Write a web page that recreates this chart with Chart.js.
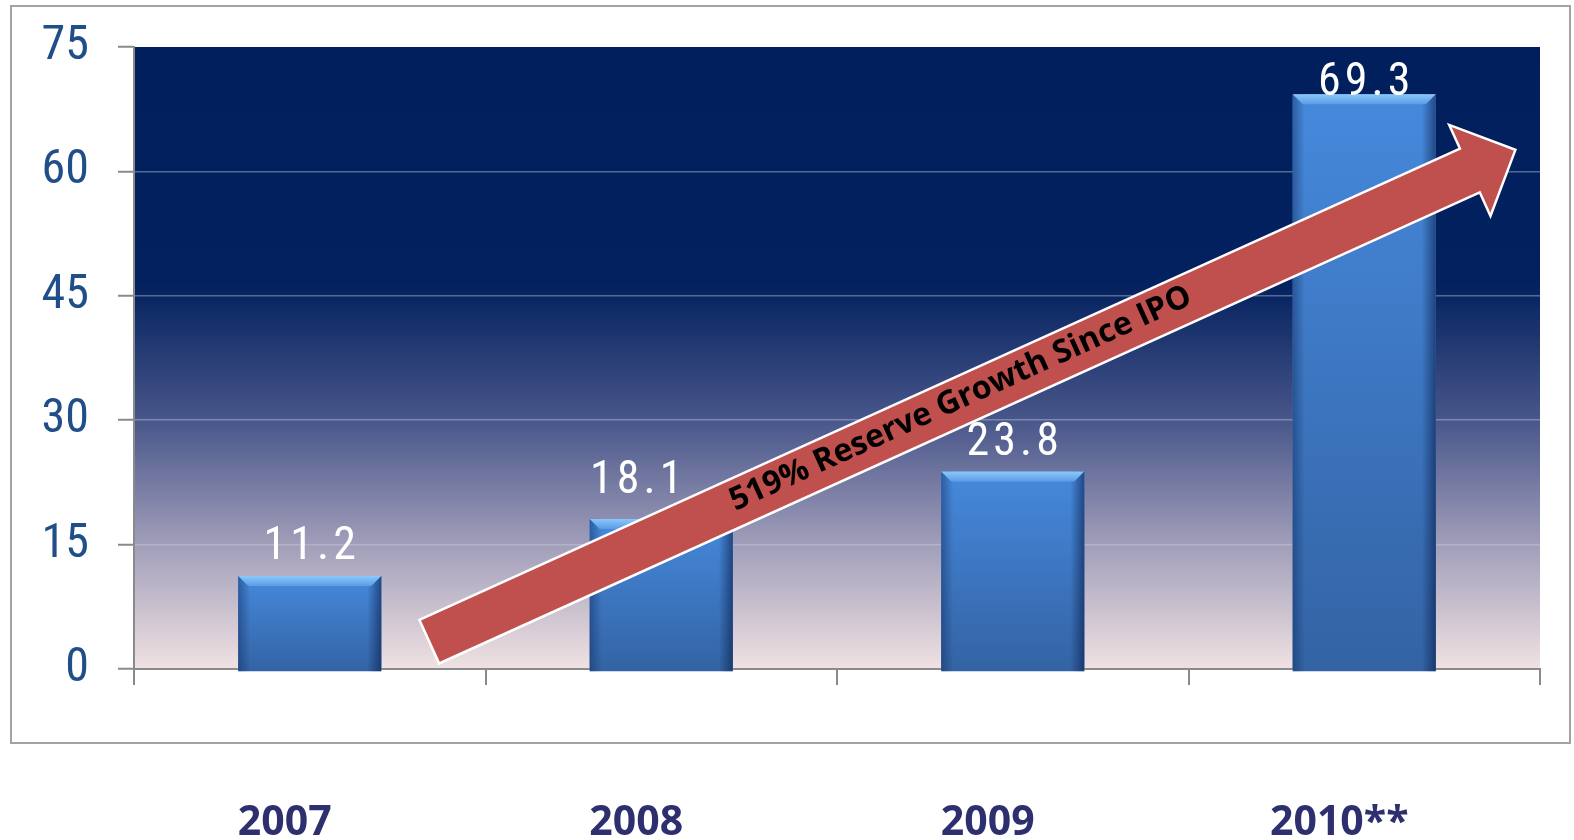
<!DOCTYPE html>
<html>
<head>
<meta charset="utf-8">
<script src="https://cdn.jsdelivr.net/npm/chart.js@4.4.1/dist/chart.umd.min.js"></script>
<style>
  html, body { margin: 0; padding: 0; background: #fff; }
  #wrap { width: 1574px; height: 840px; }
</style>
</head>
<body>
<div id="wrap"><canvas id="reserveChart" width="1574" height="840"></canvas></div>
<script>
// reserves per year
const years = ["2007", "2008", "2009", "2010**"];
const reserves = [11.2, 18.1, 23.8, 69.3];
const yTicks = [0, 15, 30, 45, 60, 75];

// growth arrow, given in data units: [category index, value]
const arrowFrom = [0.34, 3.3];
const arrowTo = [3.43, 62.6];
const arrowText = "519% Reserve Growth Since IPO";

// the 2008 label sits a bit left and higher in the original
const labelNudge = { "2008": [-25, -9] };

const narrow = "'Liberation Sans Narrow', 'Roboto Condensed', Roboto, sans-serif";

const decor = {
    id: "decor",
    beforeDraw(chart) {
        const ctx = chart.ctx;
        const a = chart.chartArea;
        ctx.save();
        // frame round the chart
        ctx.strokeStyle = "#a3a3a3";
        ctx.lineWidth = 2;
        ctx.strokeRect(11, 6, 1559, 737);
        // plot background
        const g = ctx.createLinearGradient(0, a.top, 0, a.bottom);
        g.addColorStop(0, "#001f5c");
        g.addColorStop(0.38, "#03215e");
        g.addColorStop(0.6, "#48568a");
        g.addColorStop(0.8, "#a19eb9");
        g.addColorStop(1, "#f0e2e3");
        ctx.fillStyle = g;
        ctx.fillRect(a.left, a.top, a.right - a.left, a.bottom - a.top);
        ctx.restore();
    },
    afterDatasetsDraw(chart) {
        const ctx = chart.ctx;
        const a = chart.chartArea;
        const bars = chart.getDatasetMeta(0).data;
        ctx.save();

        // bar shading
        bars.forEach(b => {
            const l = b.x - b.width / 2, r = b.x + b.width / 2, t = b.y, bot = b.base + 3;
            const g = ctx.createLinearGradient(0, t, 0, bot);
            g.addColorStop(0, "#4689dc");
            g.addColorStop(1, "#3363a4");
            ctx.fillStyle = g;
            ctx.fillRect(l, t, r - l, bot - t);
            const gl = ctx.createLinearGradient(l, 0, l + 12, 0);
            gl.addColorStop(0, "rgba(15,40,90,0.45)");
            gl.addColorStop(1, "rgba(15,40,90,0)");
            ctx.fillStyle = gl;
            ctx.fillRect(l, t, 12, bot - t);
            const gr = ctx.createLinearGradient(r - 14, 0, r, 0);
            gr.addColorStop(0, "rgba(10,30,75,0)");
            gr.addColorStop(1, "rgba(10,30,75,0.6)");
            ctx.fillStyle = gr;
            ctx.fillRect(r - 14, t, 14, bot - t);
            const gt = ctx.createLinearGradient(0, t, 0, t + 10);
            gt.addColorStop(0, "#8cc8fa");
            gt.addColorStop(1, "#5a9be6");
            ctx.fillStyle = gt;
            ctx.beginPath();
            ctx.moveTo(l, t);
            ctx.lineTo(r, t);
            ctx.lineTo(r - 10, t + 10);
            ctx.lineTo(l + 10, t + 10);
            ctx.closePath();
            ctx.fill();
        });

        // growth arrow
        const xs = chart.scales.x, ys = chart.scales.y;
        const x0 = xs.getPixelForValue(arrowFrom[0]), y0 = ys.getPixelForValue(arrowFrom[1]);
        const x1 = xs.getPixelForValue(arrowTo[0]), y1 = ys.getPixelForValue(arrowTo[1]);
        const len = Math.hypot(x1 - x0, y1 - y0);
        ctx.save();
        ctx.translate(x0, y0);
        ctx.rotate(Math.atan2(y1 - y0, x1 - x0));
        const sw = 24, hw = 50, hl = 50;
        ctx.beginPath();
        ctx.moveTo(0, -sw);
        ctx.lineTo(len - hl, -sw);
        ctx.lineTo(len - hl, -hw);
        ctx.lineTo(len, 0);
        ctx.lineTo(len - hl, hw);
        ctx.lineTo(len - hl, sw);
        ctx.lineTo(0, sw);
        ctx.closePath();
        ctx.fillStyle = "#c0504d";
        ctx.fill();
        ctx.strokeStyle = "#ffffff";
        ctx.lineWidth = 2.5;
        ctx.lineJoin = "miter";
        ctx.stroke();
        ctx.fillStyle = "#000000";
        ctx.font = "bold 32px 'Open Sans', 'DejaVu Sans', sans-serif";
        ctx.textAlign = "center";
        ctx.textBaseline = "middle";
        ctx.fillText(arrowText, len * 0.49, -2);
        ctx.restore();

        // data labels
        ctx.fillStyle = "#ffffff";
        ctx.font = "46px " + narrow;
        ctx.letterSpacing = "4px";
        ctx.textAlign = "center";
        ctx.textBaseline = "alphabetic";
        bars.forEach((b, i) => {
            const n = labelNudge[years[i]] || [0, 0];
            const y = Math.max(b.y - 17, a.top + 48) + n[1];
            ctx.fillText(reserves[i].toFixed(1), b.x + 2 + n[0], y);
        });
        ctx.restore();
    }
};

new Chart(document.getElementById("reserveChart"), {
    type: "bar",
    data: {
        labels: years,
        datasets: [{
            data: reserves,
            backgroundColor: "#3d78c4",
            categoryPercentage: 0.407,
            barPercentage: 1
        }]
    },
    options: {
        responsive: false,
        animation: false,
        layout: { padding: { top: 47, right: 34, left: 0, bottom: 0 } },
        plugins: {
            legend: { display: false },
            tooltip: { enabled: false }
        },
        scales: {
            x: {
                grid: { drawOnChartArea: false, color: "#8a8a8a", tickLength: 16, lineWidth: 2 },
                border: { color: "#8a8a8a", width: 2 },
                ticks: {
                    font: { family: "'Open Sans', sans-serif", size: 41, weight: "bold" },
                    color: "#2d2f6e",
                    padding: 114,
                    labelOffset: -25,
                    maxRotation: 0
                },
                afterFit(s) { s.height = 171; s.paddingLeft = 0; s.paddingRight = 0; }
            },
            y: {
                min: 0,
                max: 75,
                afterBuildTicks(s) { s.ticks = yTicks.map(v => ({ value: v })); },
                grid: {
                    color: c => (c.tick && c.tick.value === 75) ? "rgba(0,0,0,0)" : "rgba(205,210,230,0.4)",
                    lineWidth: 1.5,
                    tickColor: "#8a8a8a",
                    tickLength: 16,
                    tickWidth: 2
                },
                border: { color: "#8a8a8a", width: 2 },
                ticks: {
                    font: { family: narrow, size: 48 },
                    color: "#1f4e88",
                    padding: 29
                },
                afterFit(s) { s.width = 134; s.paddingTop = 0; s.paddingBottom = 0; }
            }
        }
    },
    plugins: [decor]
});
</script>
</body>
</html>
